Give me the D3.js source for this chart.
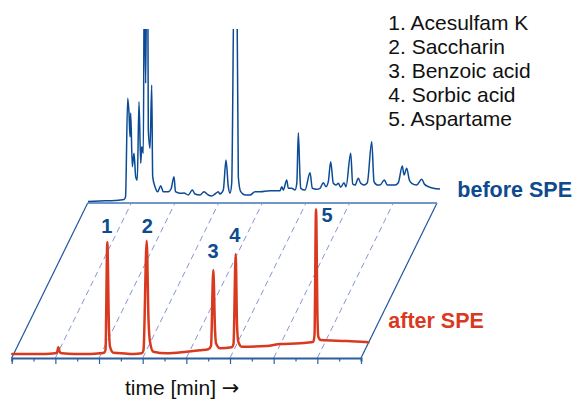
<!DOCTYPE html>
<html>
<head>
<meta charset="utf-8">
<script src="https://cdn.jsdelivr.net/npm/d3@7"></script>
<style>
  html, body { margin: 0; padding: 0; background: #fff; }
  svg { display: block; }
  text { font-family: "Liberation Sans", Arial, Helvetica, sans-serif; }
</style>
</head>
<body>
<svg id="chart" width="573" height="399"></svg>
<script>
// ---------- DATA ----------
// "before SPE" chromatogram (time in min-units, signal height)
const beforeTime = [0.014,0.563,1.251,1.663,1.732,1.832,1.892,1.938,1.970,2.043,2.121,2.199,2.272,2.350,2.428,2.474,2.547,2.593,2.657,2.703,2.749,2.776,2.854,2.932,2.977,3.083,3.207,3.344,3.463,3.692,3.816,3.953,4.022,4.228,4.411,4.608,4.792,4.915,5.144,5.327,5.525,5.680,5.831,5.983,6.060,6.212,6.335,6.440,6.519,6.596,6.716,6.826,6.899,7.009,7.206,7.435,7.664,7.893,8.351,8.809,8.887,8.960,9.116,9.190,9.345,9.496,9.579,9.648,9.726,9.758,9.955,10.184,10.289,10.490,10.641,10.793,10.916,11.021,11.131,11.250,11.374,11.479,11.589,11.740,11.832,12.047,12.139,12.245,12.396,12.506,12.657,12.808,13.010,13.115,13.266,13.390,13.587,13.724,13.926,14.077,14.228,14.411,14.489,14.613,14.732,14.842,15.071,15.300,15.419,15.602,15.831,16.138];
const beforeSignal = [1.5,2,2.5,3.5,6,104.7,89.7,66.3,90,36.3,49.7,26.3,23,101.3,39.7,56.3,49.7,240,119.7,240,240,73,54.7,118,26.3,16.3,11.3,17.3,11.3,11.3,14,26.3,11.3,9.7,10,8,13,9,8,11.3,8,7,9,11.3,9,13,43,16.3,9.7,19.7,240,240,26.3,11.3,8,8,11.3,11.3,12.3,12.3,16.3,13,23,14.7,14.7,13,20,70.3,25,14.7,13,30.3,14.7,13.7,14.7,20.3,16.3,21.3,41.3,19.7,18,19.7,15.7,20.3,16.3,49.7,19,18,24.7,19.7,18,20.3,61.3,21.3,18,18,23,18,18,18,20.3,37,28,34.7,23,19.7,18,23.7,19,16.3,14.7,14];

// "after SPE" chromatogram
const afterTime = [0.027,0.838,1.525,1.984,2.075,2.135,2.213,2.304,2.900,3.587,4.045,4.228,4.297,4.379,4.457,4.503,4.654,5.190,5.570,5.955,6.038,6.184,6.267,6.335,6.486,7.100,8.016,8.626,9.006,9.130,9.235,9.313,9.359,9.542,10.078,10.160,10.261,10.321,10.380,10.536,11.681,12.290,13.206,13.513,13.816,13.871,13.940,14.009,14.045,14.155,15.346,16.335];
const afterSignal = [4,4,4,4.7,5.5,10.7,5.5,4.7,4,4,4.7,5.3,8,115.7,28,11.3,5.3,4.5,4,4.7,8,117.3,38,16.3,6.3,4.7,6.3,7.7,8.7,12,88,28,14.7,9.7,10.7,14,104,33,16.3,11.3,12,14,14.7,15.3,16.3,23,148.7,38,21.3,18,17,15.7];

// peak annotations
const peakLabels = ["1", "2", "3", "4", "5"];
const peakTimes = [4.379, 6.184, 9.235, 10.261, 13.940];
const peakHeights = [115.7, 117.3, 88, 104, 148.7];

// legend
const compounds = ["1. Acesulfam K", "2. Saccharin", "3. Benzoic acid", "4. Sorbic acid", "5. Aspartame"];
const traceNames = ["before SPE", "after SPE"];
const axisTitle = "time [min] ";
const axisArrow = "\u2192";

// axis ticks (time units)
const tickValues = d3.range(0, 17, 1);
const majorTicks = d3.range(0, 17, 2);

// ---------- LAYOUT ----------
const svg = d3.select("#chart");
const x = d3.scaleLinear().domain([0, 16]).range([11.7, 361]);
const y = d3.scaleLinear().domain([0, 400]).range([358, -42]);
const backDx = 76, backDy = -155;
const blue = "#0b4a94", red = "#d93a1f";

// plane (parallelogram)
const bl = [x(0), y(0)], br = [x(16), y(0)];
const tl = [x(0) + backDx, y(0) + backDy], tr = [x(16) + backDx, y(0) + backDy];

// dashed time guides
svg.append("g").selectAll("line")
  .data(majorTicks.filter(d => d > 0 && d < 16))
  .join("line")
  .attr("x1", d => x(d)).attr("y1", y(0))
  .attr("x2", d => x(d) + backDx).attr("y2", y(0) + backDy)
  .attr("stroke", "#8796d6").attr("stroke-width", 1)
  .attr("stroke-dasharray", "6,4");

// left & right edges
svg.append("line").attr("x1", bl[0]).attr("y1", bl[1]).attr("x2", tl[0]).attr("y2", tl[1])
  .attr("stroke", "#1f56a0").attr("stroke-width", 1.2);
svg.append("line").attr("x1", br[0]).attr("y1", br[1]).attr("x2", tr[0]).attr("y2", tr[1])
  .attr("stroke", "#1f56a0").attr("stroke-width", 1.2);
// top edge
svg.append("line").attr("x1", tl[0]).attr("y1", tl[1]).attr("x2", tr[0]).attr("y2", tr[1])
  .attr("stroke", "#7195c6").attr("stroke-width", 2);

// bottom axis
const axis = d3.axisBottom(x).tickValues(tickValues).tickFormat("").tickSizeOuter(0)
  .tickSize(3.5);
const gAxis = svg.append("g").attr("transform", `translate(0,${y(0)})`).call(axis);
gAxis.select(".domain").attr("stroke", "#2d5e9e").attr("stroke-width", 2);
gAxis.selectAll(".tick line")
  .attr("stroke", "#2d5e9e").attr("stroke-width", 1.2)
  .attr("y2", d => majorTicks.includes(d) ? 6 : 3.5);

// clip for the back trace
svg.append("clipPath").attr("id", "clipTop")
  .append("rect").attr("x", 0).attr("y", 29).attr("width", 573).attr("height", 370);

// before SPE trace
const lineBack = d3.line()
  .x(d => x(d[0]) + backDx)
  .y(d => y(d[1]) + backDy)
  .curve(d3.curveMonotoneX);
svg.append("path")
  .datum(d3.zip(beforeTime, beforeSignal))
  .attr("clip-path", "url(#clipTop)")
  .attr("d", lineBack)
  .attr("fill", "none").attr("stroke", blue).attr("stroke-width", 1.5)
  .attr("stroke-linejoin", "round");

// after SPE trace
const lineFront = d3.line()
  .x(d => x(d[0]))
  .y(d => y(d[1]))
  .curve(d3.curveMonotoneX);
svg.append("path")
  .datum(d3.zip(afterTime, afterSignal))
  .attr("d", lineFront)
  .attr("fill", "none").attr("stroke", red).attr("stroke-width", 2.5)
  .attr("stroke-linejoin", "round").attr("stroke-linecap", "round");

// peak labels
const lblDx = [-0.6, 0.5, -0.3, -1, 11];
const lblDy = [9, 7.7, 12.5, 12.3, -12.7];
svg.append("g").selectAll("text")
  .data(peakLabels)
  .join("text")
  .attr("x", (d, i) => x(peakTimes[i]) + lblDx[i])
  .attr("y", (d, i) => y(peakHeights[i]) - lblDy[i])
  .attr("text-anchor", "middle")
  .attr("font-size", 20).attr("font-weight", "bold")
  .attr("fill", "#0d4a8e")
  .text(d => d);

// legend of compounds
svg.append("g").selectAll("text")
  .data(compounds)
  .join("text")
  .attr("x", 388.3)
  .attr("y", (d, i) => 30 + i * 24)
  .attr("font-size", 21).attr("fill", "#111")
  .text(d => d);

// trace names
svg.append("text").attr("x", 457.3).attr("y", 197.3)
  .attr("font-size", 21.5).attr("font-weight", "bold").attr("fill", "#0d4a8e")
  .text(traceNames[0]);
svg.append("text").attr("x", 388.3).attr("y", 328.3)
  .attr("font-size", 21.5).attr("font-weight", "bold").attr("fill", red)
  .text(traceNames[1]);

// axis title
const title = svg.append("text").attr("x", 125).attr("y", 395)
  .attr("font-size", 21).attr("fill", "#111").attr("xml:space", "preserve");
title.append("tspan").text(axisTitle);
title.append("tspan").attr("font-family", "'DejaVu Sans', sans-serif").attr("font-size", 21)
  .text(axisArrow);
</script>
</body>
</html>
